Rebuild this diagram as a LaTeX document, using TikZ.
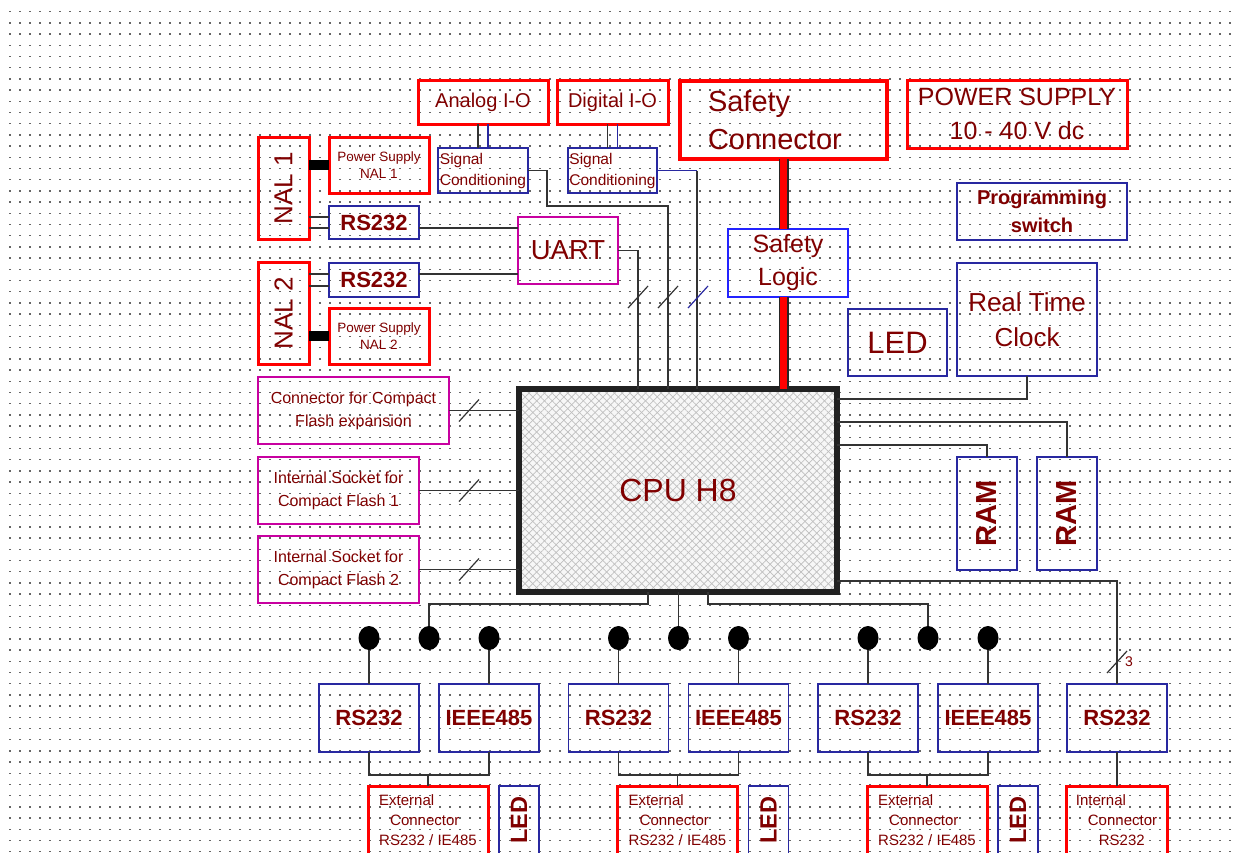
\documentclass[tikz,border=0pt]{standalone}
\usepackage{fontspec}
\setmainfont{Liberation Sans}
\usepackage{xcolor}
\usepackage{tikz}
\usetikzlibrary{positioning,shapes.geometric,patterns.meta}
\definecolor{txtred}{RGB}{128,0,0}
\definecolor{boxred}{RGB}{255,0,0}
\definecolor{boxblue}{RGB}{40,40,160}
\definecolor{logicblue}{RGB}{35,35,255}
\definecolor{boxmag}{RGB}{200,0,160}
\definecolor{wirecol}{RGB}{51,51,51}
\newcommand\fsz[2]{\fontsize{#1}{#2}\selectfont}

\begin{document}
\begin{tikzpicture}[x=1pt,y=-1pt,node distance=20pt,
  every node/.style={text=txtred,inner sep=0pt,outer sep=0pt},
  bx/.style n args={2}{anchor=north west,minimum width=#1pt,minimum height=#2pt},
  redbox/.style={draw=boxred,line width=3pt},
  bluebox/.style={draw=boxblue,line width=1.3pt},
  magbox/.style={draw=boxmag,line width=2.6pt},
  wire/.style={draw=wirecol,line width=1.2pt},
  bluewire/.style={draw=boxblue,line width=1.2pt},
  psbar/.style={draw=black,line width=10pt},
  safetybar/.style={draw=black!85,line width=10pt,postaction={draw=boxred,line width=7pt}},
  pindot/.style={ellipse,fill=black,minimum width=21pt,minimum height=24pt},
  bigbold/.style={font=\bfseries\fsz{22}{26}},
  cftext/.style={align=center,font=\fsz{16}{23}},
  context/.style={align=left,font=\fsz{15}{20}}]
\path[use as bounding box,fill=white] (0,0) rectangle (1238,852);
\clip (0,0) rectangle (1238,852);
\foreach \k in {0,...,75}
  \draw[black!60,line width=1.3pt,dash pattern=on 1.3pt off 8.7pt] (9.35,11.7+11.2*\k) -- (1238,11.7+11.2*\k);

\node[draw=black!87,line width=6pt,minimum width=318pt,minimum height=203pt,
  preaction={fill=gray!6},
  preaction={pattern={Lines[angle=45,distance=5.5pt,line width=0.7pt]},pattern color=gray!50},
  preaction={pattern={Lines[angle=-45,distance=5.5pt,line width=0.7pt]},pattern color=gray!50},
  font=\fsz{32}{38}] (cpu) at (678,490.5) {CPU H8};

\node[redbox,bx={130}{44},font=\fsz{20}{24}] (analog) at (418,80) {Analog I-O};
\node[redbox,bx={111}{44},font=\fsz{20}{24}] (digital) at (557,80) {Digital I-O};
\node[redbox,line width=4pt,bx={207}{78},text width=151pt,align=left,font=\fsz{29}{38}] (safety) at (680,81) {Safety\\Connector};
\node[redbox,bx={220}{68},align=center,font=\fsz{25}{34}] (power) at (907,80) {POWER SUPPLY\\10 - 40 V dc};
\node[bluebox,bx={170}{57},align=center,font=\bfseries\fsz{20}{28}] (progsw) at (957,183) {Programming\\switch};
\node[bluebox,draw=logicblue,bx={120}{68},align=center,font=\fsz{25}{33}] (slogic) at (728,229) {Safety\\Logic};
\node[bluebox,bx={99}{67},font=\fsz{31}{36}] (led) at (848,309) {LED};
\node[bluebox,bx={140}{113},align=center,font=\fsz{26}{35}] (rtc) at (957,263) {Real Time\\Clock};
\node[bluebox,below=24pt of analog,minimum width=90pt,minimum height=45pt,align=left,font=\fsz{15.5}{21}] (sc1) {Signal\\Conditioning};
\node[bluebox,below=24pt of digital,minimum width=89pt,minimum height=45pt,align=left,font=\fsz{15.5}{21}] (sc2) {Signal\\Conditioning};

\node[redbox,bx={51}{102},font=\fsz{26}{30}] (nal1) at (258,137) {\rotatebox{90}{NAL 1}};
\node[redbox,bx={100}{56},align=center,font=\fsz{13.5}{17}] (ps1) at (329,137) {Power Supply\\NAL 1};
\node[bluebox,bx={90}{33},bigbold] (rs1) at (329,206) {RS232};
\node[redbox,bx={51}{102},font=\fsz{26}{30}] (nal2) at (258,262) {\rotatebox{90}{NAL 2}};
\node[bluebox,bx={90}{34},bigbold] (rs2) at (329,263) {RS232};
\node[redbox,bx={100}{56},align=center,font=\fsz{13.5}{17}] (ps2) at (329,308) {Power Supply\\NAL 2};
\node[magbox,bx={100}{67},font=\fsz{27.5}{32}] (uart) at (518,217) {UART};
\node[magbox,bx={191}{67},cftext] (cfexp) at (258,377) {Connector for Compact\\Flash expansion};
\node[magbox,bx={161}{67},cftext] (cf1) at (258,457) {Internal Socket for\\Compact Flash 1};
\node[magbox,bx={161}{67},cftext] (cf2) at (258,536) {Internal Socket for\\Compact Flash 2};

\node[bluebox,bx={60}{113},font=\bfseries\fsz{29}{32}] (ram1) at (957,457) {\rotatebox{90}{RAM}};
\node[bluebox,right=20pt of ram1,minimum width=60pt,minimum height=113pt,font=\bfseries\fsz{29}{32}] (ram2) {\rotatebox{90}{RAM}};

\foreach \g [count=\i from 0] in {a,b,c}{
  \pgfmathsetmacro\ox{249.5*\i}
  \node[bluebox,bx={100}{68},bigbold] (rs\g) at (319+\ox,684) {RS232};
  \node[bluebox,right=20pt of rs\g,minimum width=100pt,minimum height=68pt,bigbold] (ie\g) {IEEE485};
  \foreach \p in {1,2,3}
    \node[pindot] (pin\g\p) at (309+60*\p+\ox,638) {};
  \node[redbox,bx={120}{68},context] (ext\g) at (368+\ox,786) {External\\\hspace*{11pt}Connector\\RS232 / IE485};
  \node[bluebox,bx={40}{68},font=\bfseries\fsz{23.5}{26}] (led\g) at (499+\ox,786) {\rotatebox{90}{LED}};
  \draw[wire] (pin\g1) -- (rs\g);
  \draw[wire] (pin\g3) -- (ie\g);
  \draw[wire] (rs\g.south) -- ++(0,23) -| (ie\g.south);
  \draw[wire] (ext\g.north) -- ++(0,-10);
}
\node[bluebox,bx={100}{68},bigbold] (rsd) at (1067,684) {RS232};
\node[redbox,bx={101}{68},context] (intcon) at (1066,786) {Internal\\\hspace*{12pt}Connector\\\hspace*{23pt}RS232};
\node[font=\fsz{14}{16},anchor=west] (buswidth) at (1125,662) {3};

\draw[psbar] (ps1.west) -- (ps1.west -| nal1.east);
\draw[psbar] (ps2.west) -- (ps2.west -| nal2.east);
\foreach \s in {5.5,-5.5}
  \draw[wire] ([yshift=\s pt]rs1.west) -- ([yshift=\s pt]rs1.west -| nal1.east);
\foreach \s in {6,-6}
  \draw[wire] ([yshift=\s pt]rs2.west) -- ([yshift=\s pt]rs2.west -| nal2.east);
\draw[wire] ([yshift=-5.5pt]rs1.east) -- ([yshift=-5.5pt]rs1.east -| uart.west);
\draw[wire] ([yshift=6pt]rs2.east) -- ([yshift=6pt]rs2.east -| uart.west);

\draw[wire] ([xshift=-5pt]sc1.north) -- ([xshift=-5pt]sc1.north |- analog.south);
\draw[bluewire] ([xshift=5pt]sc1.north) -- ([xshift=5pt]sc1.north |- analog.south);
\draw[wire] ([xshift=-5pt]sc2.north) -- ([xshift=-5pt]sc2.north |- digital.south);
\draw[bluewire] ([xshift=5pt]sc2.north) -- ([xshift=5pt]sc2.north |- digital.south);

\draw[wire] (uart.east) -- ++(20,0) coordinate (uartc) -- (uartc |- cpu.north);
\draw[wire] (sc1.east) -- ++(19,0) |- (668,206) -- (668,0 |- cpu.north);
\draw[bluewire] (sc2.east) -- ++(40,0) coordinate (sc2c);
\draw[wire] (sc2c) -- (sc2c |- cpu.north);
\foreach \x in {638,668}
  \draw[wire] (\x,297) +(-10,11) -- +(10,-11);
\draw[bluewire] (698,297) +(-10,11) -- +(10,-11);

\draw[safetybar] (safety.south) -- (safety.south |- slogic.north);
\draw[safetybar] (safety.south |- slogic.south) -- (safety.south |- cpu.north);

\foreach \n in {cfexp,cf1,cf2}{
  \draw[wire] (\n.east) -- (\n.east -| cpu.west);
  \draw[wire] (469,0 |- \n.east) +(-10,11) -- +(10,-11);
}

\draw[wire] (cpu.east |- 0,399) -| (rtc.south);
\draw[wire] (cpu.east |- 0,422) -| (ram2.north);
\draw[wire] (cpu.east |- 0,445) -| (ram1.north);
\draw[wire] (cpu.east |- 0,581) -| (rsd.north);
\draw[wire] (1117,662) +(-10,11) -- +(10,-11);
\draw[wire] (rsd.south) -- (rsd.south |- intcon.north);

\draw[wire] (648,0 |- cpu.south) -- (648,604) -| (pina2.north);
\draw[wire] (pinb2.north |- cpu.south) -- (pinb2.north);
\draw[wire] (708,0 |- cpu.south) -- (708,604) -| (pinc2.north);
\end{tikzpicture}
\end{document}
